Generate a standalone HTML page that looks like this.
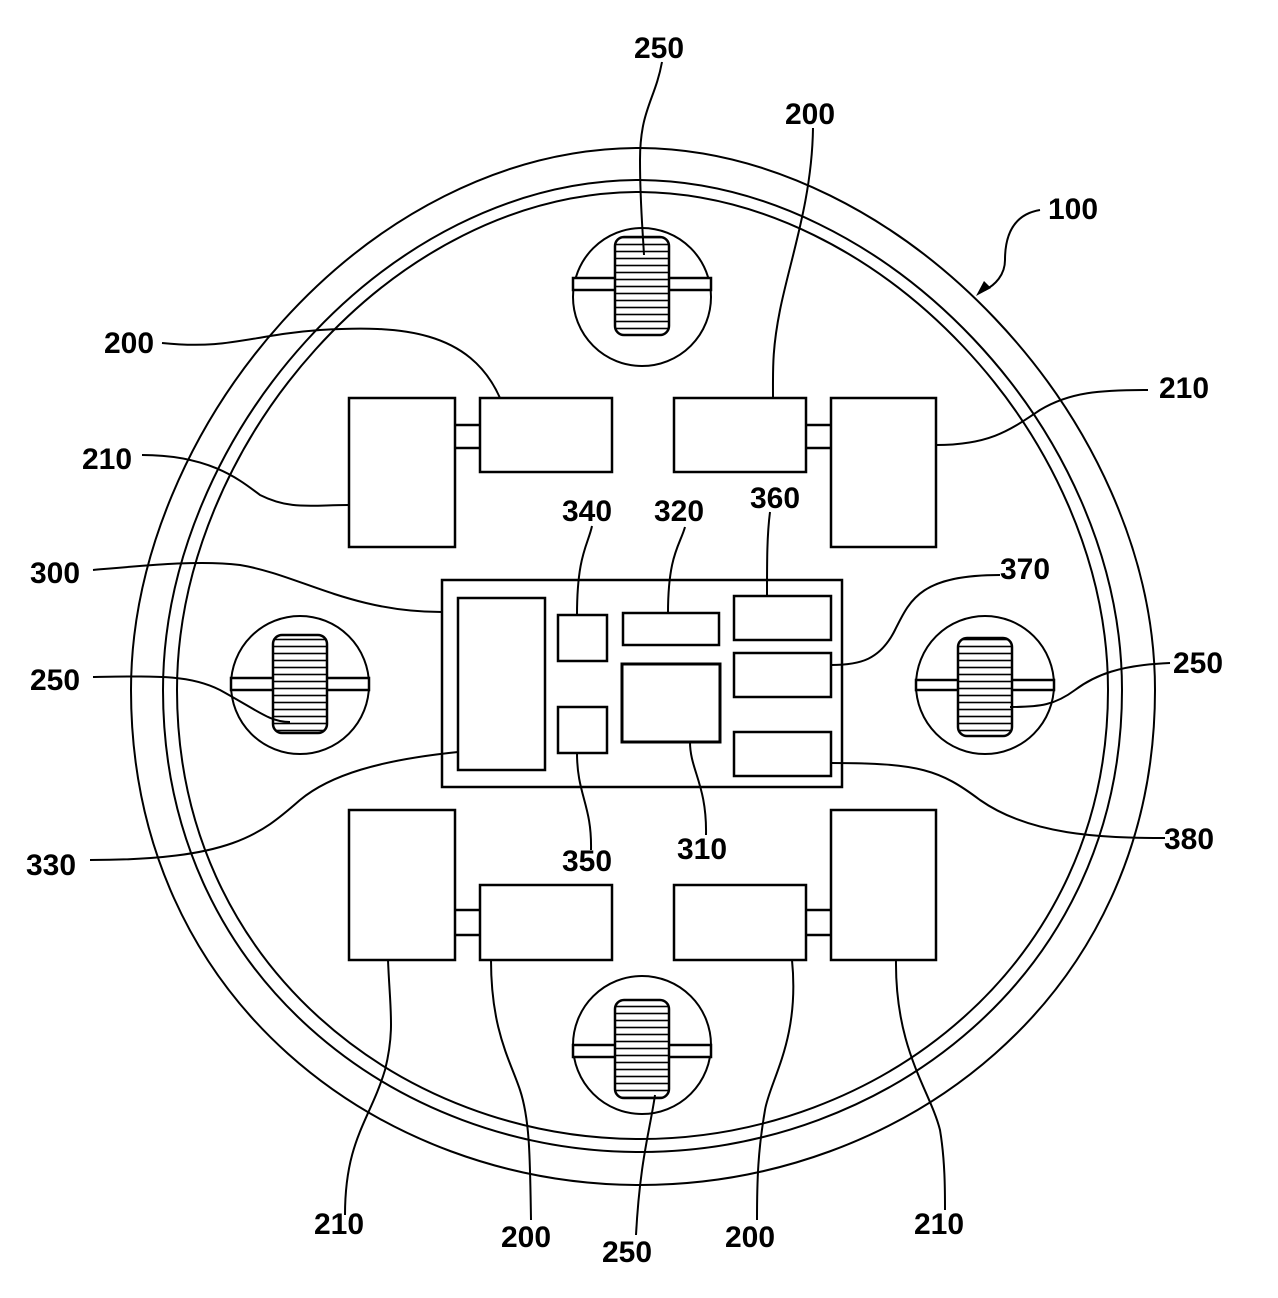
<!DOCTYPE html>
<html><head><style>
body{margin:0;background:#fff}
svg{display:block}
text{font-family:"Liberation Sans",Arial,sans-serif;font-size:30px;font-weight:bold;fill:#000}
</style></head><body>
<svg width="1278" height="1298" viewBox="0 0 1278 1298" xmlns="http://www.w3.org/2000/svg">
<defs>
<pattern id="h" width="10" height="7" patternUnits="userSpaceOnUse"><rect width="10" height="7" fill="#fff"/><line x1="0" y1="3.5" x2="10" y2="3.5" stroke="#000" stroke-width="1.6"/></pattern>
</defs>
<g fill="none" stroke="#000" stroke-width="2">
<path d="M640,148 C900,150 1155,420 1155,690 C1155,1000 900,1185 640,1185 C380,1185 131,1000 131,690 C131,430 365,148 640,148 Z"/>
<path d="M640,180 C885,182 1122,430 1122,690 C1122,975 885,1152 640,1152 C395,1152 163,975 163,690 C163,440 385,180 640,180 Z"/>
<path d="M640,192 C878,194 1108,436 1108,690 C1108,965 878,1139 640,1139 C402,1139 177,965 177,690 C177,446 392,192 640,192 Z"/>
</g>
<g stroke="#000" stroke-width="2.5" fill="#fff">
<g transform="translate(642,297)"><circle r="69" stroke-width="2"/><rect x="-69" y="-19" width="138" height="12" stroke-width="2.5"/><rect x="-27" y="-60" width="54" height="98" rx="9" fill="url(#h)"/></g>
<g transform="translate(300,685)"><circle r="69" stroke-width="2"/><rect x="-69" y="-7" width="138" height="12"/><rect x="-27" y="-50" width="54" height="98" rx="9" fill="url(#h)"/></g>
<g transform="translate(985,685)"><circle r="69" stroke-width="2"/><rect x="-69" y="-5" width="138" height="10"/><rect x="-27" y="-47" width="54" height="98" rx="9" fill="url(#h)"/></g>
<g transform="translate(642,1045)"><circle r="69" stroke-width="2"/><rect x="-69" y="0" width="138" height="12"/><rect x="-27" y="-45" width="54" height="98" rx="9" fill="url(#h)"/></g>
<rect x="349" y="398" width="106" height="149"/><rect x="480" y="398" width="132" height="74"/>
<line x1="455" y1="425" x2="480" y2="425"/><line x1="455" y1="448" x2="480" y2="448"/>
<rect x="674" y="398" width="132" height="74"/><rect x="831" y="398" width="105" height="149"/>
<line x1="806" y1="425" x2="831" y2="425"/><line x1="806" y1="448" x2="831" y2="448"/>
<rect x="349" y="810" width="106" height="150"/><rect x="480" y="885" width="132" height="75"/>
<line x1="455" y1="910" x2="480" y2="910"/><line x1="455" y1="935" x2="480" y2="935"/>
<rect x="674" y="885" width="132" height="75"/><rect x="831" y="810" width="105" height="150"/>
<line x1="806" y1="910" x2="831" y2="910"/><line x1="806" y1="935" x2="831" y2="935"/>
<rect x="442" y="580" width="400" height="207"/>
<rect x="458" y="598" width="87" height="172"/>
<rect x="558" y="615" width="49" height="46"/>
<rect x="558" y="707" width="49" height="46"/>
<rect x="623" y="613" width="96" height="32"/>
<rect x="622" y="664" width="98" height="78" stroke-width="3"/>
<rect x="734" y="596" width="97" height="44"/>
<rect x="734" y="653" width="97" height="44"/>
<rect x="734" y="732" width="97" height="44"/>
</g>
<g fill="none" stroke="#000" stroke-width="2">
<path d="M662,62 C655,100 640,110 640,160 C640,200 642,220 644,255"/>
<path d="M813,128 C812,200 790,260 780,310 C772,350 773,370 773,398"/>
<path d="M162,343 C230,350 250,335 320,330 C400,325 470,330 500,398"/>
<path d="M142,455 C210,455 240,480 260,495 C290,510 310,505 349,505"/>
<path d="M936,445 C990,445 1010,430 1040,410 C1070,392 1100,390 1148,390"/>
<path d="M1040,210 C1010,215 1005,240 1005,260 C1005,275 995,285 985,290"/>
<path d="M93,570 C150,565 200,560 240,565 C300,575 350,612 442,612"/>
<path d="M93,677 C160,676 190,675 220,690 C260,712 270,722 290,722"/>
<path d="M458,752 C380,760 330,775 300,800 C260,835 230,860 90,860"/>
<path d="M592,526 C588,545 577,555 577,615"/>
<path d="M685,527 C680,545 668,555 668,613"/>
<path d="M770,512 C767,535 767,560 767,596"/>
<path d="M1000,575 C920,575 910,600 895,630 C880,660 860,665 831,665"/>
<path d="M1170,663 C1120,665 1095,675 1075,690 C1055,705 1040,707 1010,707"/>
<path d="M831,763 C920,763 940,770 980,800 C1030,835 1100,838 1165,838"/>
<path d="M577,753 C577,795 592,805 591,850"/>
<path d="M690,742 C690,770 707,785 706,835"/>
<path d="M388,960 C390,1010 395,1030 385,1070 C370,1120 345,1140 345,1215"/>
<path d="M491,960 C491,1030 510,1060 520,1090 C530,1120 530,1160 531,1220"/>
<path d="M655,1095 C650,1130 640,1160 636,1235"/>
<path d="M792,960 C800,1040 770,1080 765,1110 C758,1150 757,1180 757,1220"/>
<path d="M896,960 C895,1050 930,1090 940,1130 C945,1160 945,1190 945,1210"/>
</g>
<path d="M976,296 L984,281 L991,288 Z" fill="#000"/>
<g>
<text x="634" y="58">250</text>
<text x="785" y="124">200</text>
<text x="1048" y="219">100</text>
<text x="104" y="353">200</text>
<text x="82" y="469">210</text>
<text x="1159" y="398">210</text>
<text x="562" y="521">340</text>
<text x="654" y="521">320</text>
<text x="750" y="508">360</text>
<text x="1000" y="579">370</text>
<text x="30" y="583">300</text>
<text x="30" y="690">250</text>
<text x="1173" y="673">250</text>
<text x="26" y="875">330</text>
<text x="562" y="871">350</text>
<text x="677" y="859">310</text>
<text x="1164" y="849">380</text>
<text x="314" y="1234">210</text>
<text x="501" y="1247">200</text>
<text x="602" y="1262">250</text>
<text x="725" y="1247">200</text>
<text x="914" y="1234">210</text>
</g>
</svg>
</body></html>
